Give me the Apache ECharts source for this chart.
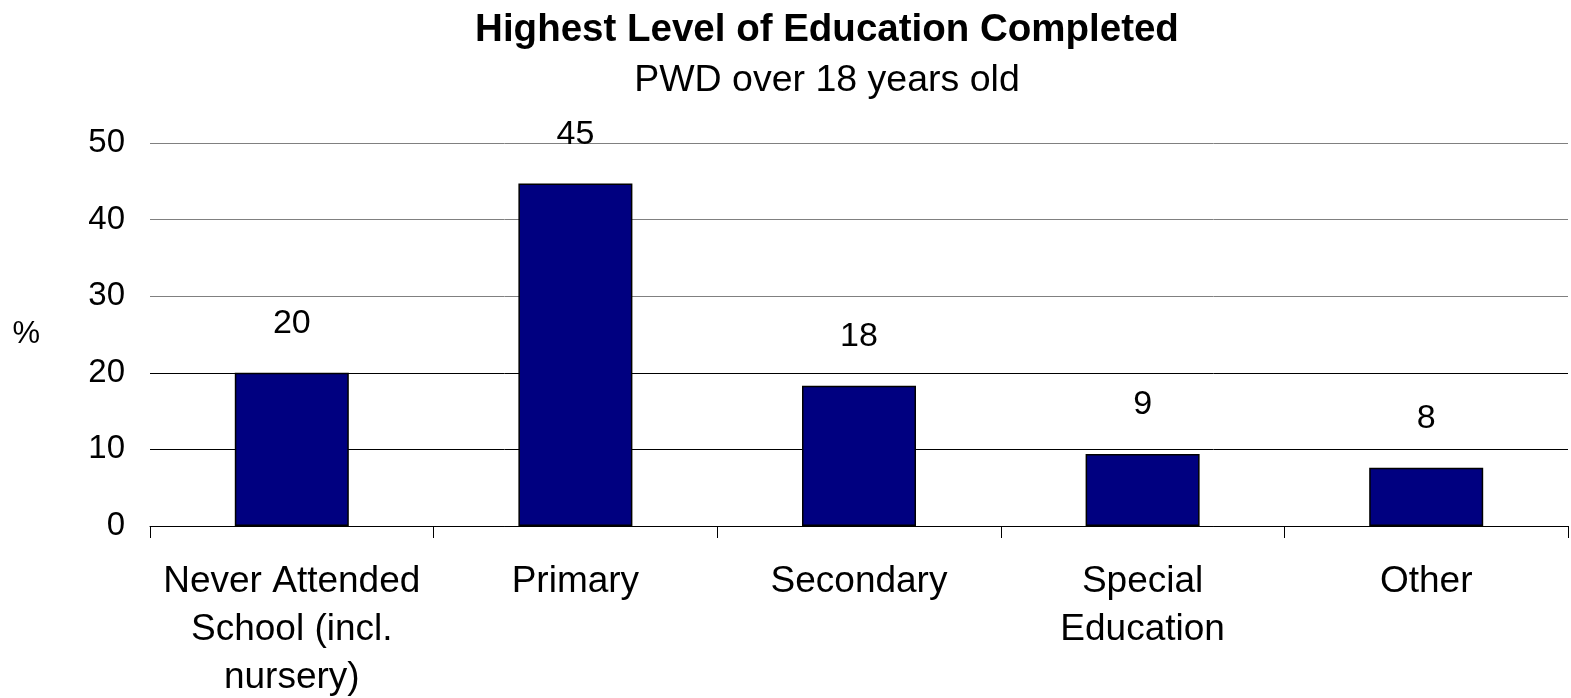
<!DOCTYPE html>
<html>
<head>
<meta charset="utf-8">
<script src="https://cdn.jsdelivr.net/npm/echarts@6/dist/echarts.min.js"></script>
<style>
  html, body { margin: 0; padding: 0; background: #fff; }
  #chart { width: 1571px; height: 698px; }
</style>
</head>
<body>
<div id="chart"></div>
<script>
const categories = [
  'Never Attended\nSchool (incl.\nnursery)',
  'Primary',
  'Secondary',
  'Special\nEducation',
  'Other'
];
const percentValues = [20.0, 44.7, 18.3, 9.4, 7.6];
const valueLabels = ['20', '45', '18', '9', '8'];
const yTicks = [0, 10, 20, 30, 40, 50];

const font = "'Liberation Sans', Arial, sans-serif";

var chart = echarts.init(document.getElementById('chart'));
let option = {
  backgroundColor: '#fff',
  animation: false,
  title: {
    text: 'Highest Level of Education Completed',
    subtext: 'PWD over 18 years old',
    left: 822,
    top: 6,
    textAlign: 'center',
    itemGap: 12,
    textStyle: {
      fontFamily: font,
      fontWeight: 'bold',
      fontSize: 38.5,
      color: '#000'
    },
    subtextStyle: {
      fontFamily: font,
      fontSize: 37.5,
      color: '#000'
    }
  },
  grid: {
    left: 150,
    right: 3,
    top: 143,
    bottom: 172,
    containLabel: false,
    outerBoundsMode: 'none'
  },
  xAxis: {
    type: 'category',
    data: categories,
    axisLine: { lineStyle: { color: '#000', width: 1 } },
    axisTick: { show: true, length: 12, lineStyle: { color: '#000' } },
    axisLabel: {
      interval: 0,
      margin: 32,
      fontFamily: font,
      fontSize: 37,
      lineHeight: 48,
      color: '#000'
    }
  },
  yAxis: {
    type: 'value',
    min: yTicks[0],
    max: yTicks[yTicks.length - 1],
    interval: 10,
    name: '%',
    nameLocation: 'middle',
    nameRotate: 0,
    nameGap: 110,
    nameTextStyle: {
      fontFamily: font,
      fontSize: 31,
      color: '#000',
      padding: [0, 0, 12, 0]
    },
    axisLine: { show: false },
    axisTick: { show: false },
    axisLabel: {
      margin: 25,
      fontFamily: font,
      fontSize: 33,
      color: '#000'
    },
    splitLine: {
      lineStyle: {
        color: ['#000', '#000', '#000', '#808080', '#808080', '#808080'],
        width: 1
      }
    }
  },
  series: [
    {
      type: 'bar',
      barWidth: 114,
      itemStyle: {
        color: '#000080',
        borderColor: '#000',
        borderWidth: 1.5
      },
      label: {
        show: true,
        position: 'top',
        distance: 32,
        fontFamily: font,
        fontSize: 34,
        color: '#000',
        formatter: p => valueLabels[p.dataIndex]
      },
      data: percentValues
    }
  ]
};
chart.setOption(option);
</script>
</body>
</html>
